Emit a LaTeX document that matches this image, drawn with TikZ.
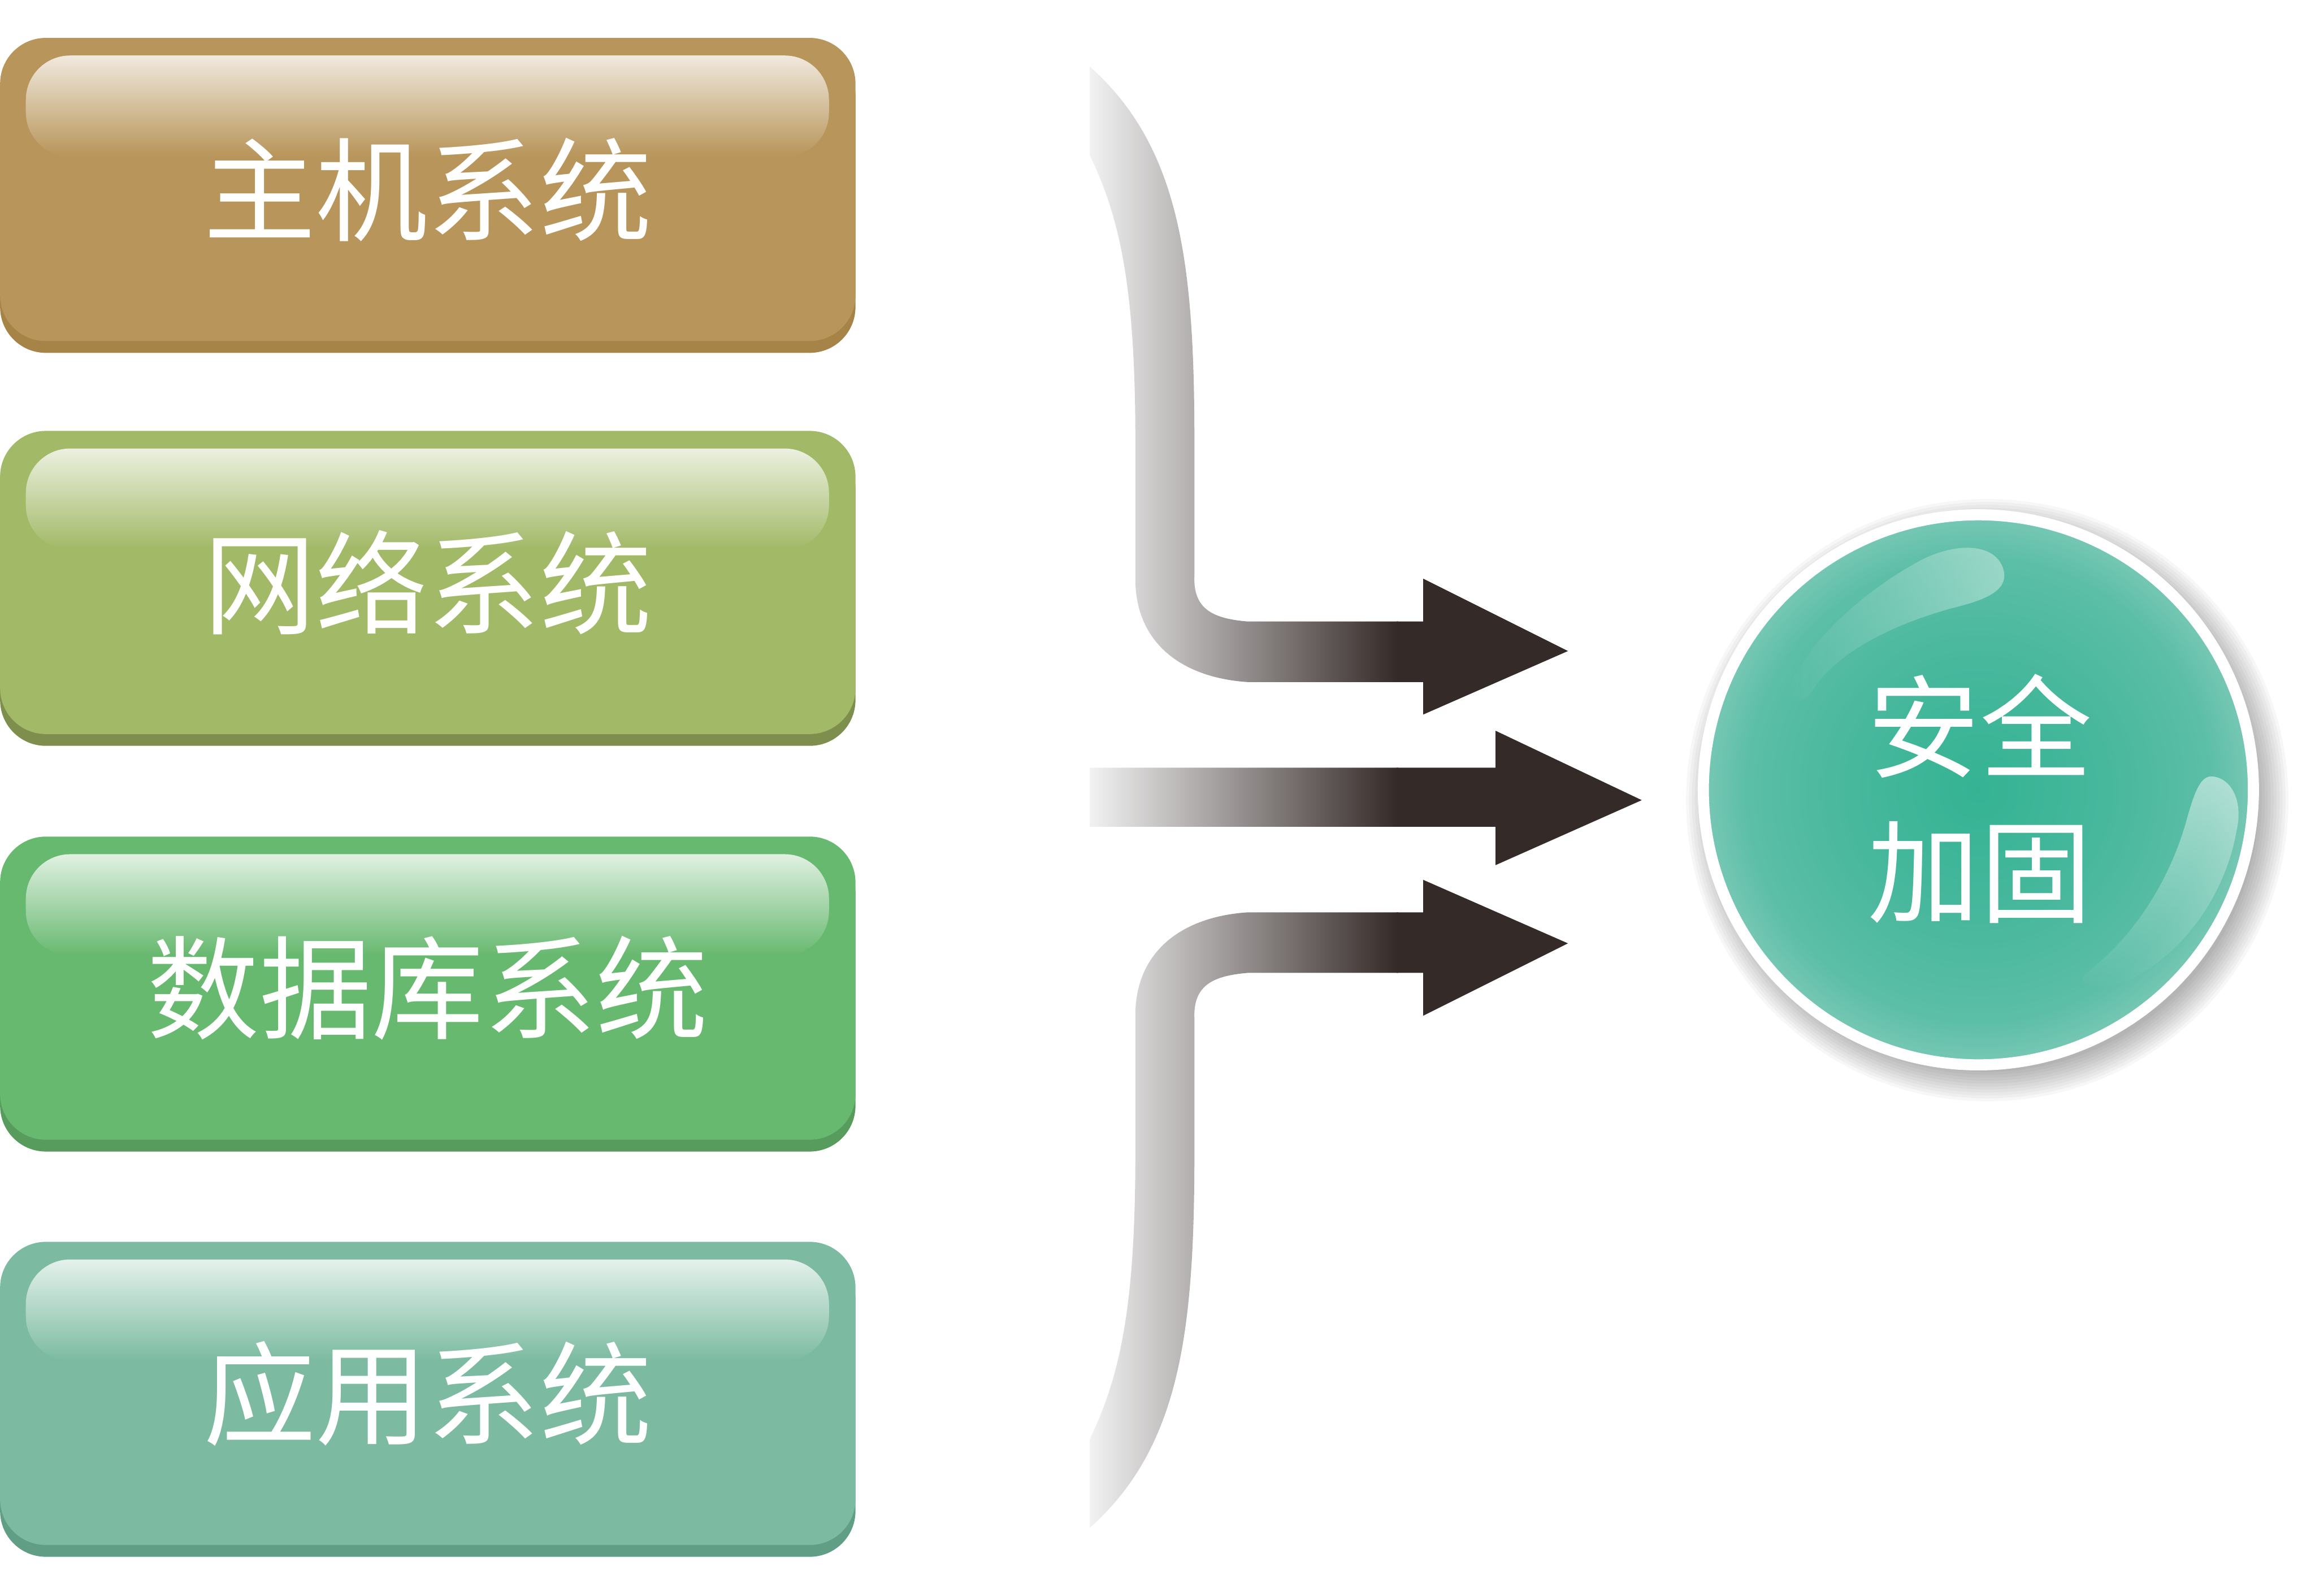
\documentclass[tikz,border=0pt]{standalone}
\usepackage{fontspec}
\newfontfamily\cjkfont{Noto Sans CJK SC}
\usetikzlibrary{shadows,fadings}
\definecolor{hostface}{HTML}{B8955A}
\definecolor{hostlip}{HTML}{A68447}
\definecolor{netface}{HTML}{A2B967}
\definecolor{netlip}{HTML}{7E8E4D}
\definecolor{dbface}{HTML}{68B970}
\definecolor{dblip}{HTML}{579B5D}
\definecolor{appface}{HTML}{7CBBA1}
\definecolor{applip}{HTML}{609E85}
\definecolor{pipelight}{HTML}{F2F2F2}
\definecolor{pipedark}{HTML}{342A28}
\definecolor{ballin}{HTML}{34B393}
\definecolor{ballmid}{HTML}{48B89D}
\definecolor{ballrim}{HTML}{5CBEA7}
\definecolor{ballout}{HTML}{78C8B5}
\pgfdeclareradialshading{ballshade}{\pgfpoint{0bp}{0bp}}{color(0bp)=(ballin); color(12bp)=(ballmid); color(21bp)=(ballrim); color(25bp)=(ballout); color(50bp)=(ballout)}
\tikzfading[name=fadedown, top color=transparent!0, bottom color=transparent!100]
\tikzfading[name=faderight, left color=transparent!100, right color=transparent!0]

\begin{document}
\begin{tikzpicture}[x=0.0125cm, y=-0.0125cm,
    sysbox/.style={rounded corners=0.3875cm, minimum width=7.24cm, minimum height=2.566cm, inner sep=0pt,
      text=white, font=\cjkfont\fontsize{27}{32}\selectfont,
      drop shadow={shadow xshift=0pt, shadow yshift=-0.1cm, opacity=1, fill=#1}},
    gloss/.style={fill=white, fill opacity=0.8, rounded corners=0.375cm, path fading=fadedown},
    shine/.style={fill=white, fill opacity=#1}]
  \useasboundingbox (0,0) rectangle (1568,1081);

  \foreach \name/\txt/\top/\face/\lip in {host/主机系统/25.7/hostface/hostlip, net/网络系统/291.9/netface/netlip,
      db/数据库系统/566.7/dbface/dblip, app/应用系统/841.2/appface/applip} {
    \node[sysbox=\lip, fill=\face] (\name) at (289.75,\top+102.65) {\txt};
    \fill[gloss] ([shift={(18,12.5)}]\name.north west) rectangle ([shift={(-18.5,81)}]\name.north east);
  }

  \begin{scope}
    \clip (738,45) .. controls (800,100) and (809,180) .. (809,300) -- (809,390)
          .. controls (808,413) and (822,419) .. (845,421) -- (964,421) -- (964,392) -- (1062,441)
          -- (964,484) -- (964,462) -- (845,462) .. controls (800,459) and (768,435) .. (769,390)
          -- (769,300) .. controls (769,200) and (760,150) .. (738,105) -- cycle
          (738,520) -- (1013,520) -- (1013,495) -- (1112,542) -- (1013,586) -- (1013,560) -- (738,560) -- cycle
          (738,1035) .. controls (800,980) and (809,900) .. (809,780) -- (809,690)
          .. controls (808,667) and (822,661) .. (845,659) -- (964,659) -- (964,688) -- (1062,639)
          -- (964,596) -- (964,618) -- (845,618) .. controls (800,621) and (768,645) .. (769,690)
          -- (769,780) .. controls (769,880) and (760,930) .. (738,975) -- cycle;
    \shade[left color=pipelight, right color=pipedark] (738,0) rectangle (947,1081);
    \fill[pipedark] (946,0) rectangle (1120,1081);
  \end{scope}

  \coordinate (ballc) at (1340,535);
  \foreach \r in {184,186,...,204}
    \fill[black, opacity=0.03] ([shift={(6,7)}]ballc) circle (\r);
  \node[circle, minimum size=4.656cm, inner sep=0pt, shade, shading=ballshade, draw=white, line width=0.094cm] (ball) at (ballc) {};
  \fill[shine=0.4, path fading=faderight] (1210,471) .. controls (1220,438) and (1262,400) .. (1302,379)
    .. controls (1326,367) and (1352,368) .. (1357,386) .. controls (1361,401) and (1342,407) .. (1322,412)
    .. controls (1282,423) and (1244,442) .. (1228,467) .. controls (1223,476) and (1212,479) .. (1210,471) -- cycle;
  \fill[shine=0.5, path fading=fadedown] (1499,526) .. controls (1513,528) and (1519,545) .. (1515,562)
    .. controls (1508,603) and (1482,644) .. (1442,664) .. controls (1425,672) and (1406,669) .. (1412,660)
    .. controls (1443,637) and (1470,598) .. (1482,552) .. controls (1487,535) and (1491,525) .. (1499,526) -- cycle;
  \node[text=white, align=center, font=\cjkfont\fontsize{27}{34.8}\selectfont] (label) at ([shift={(1,6)}]ball.center) {安全\\加固};
\end{tikzpicture}
\end{document}
